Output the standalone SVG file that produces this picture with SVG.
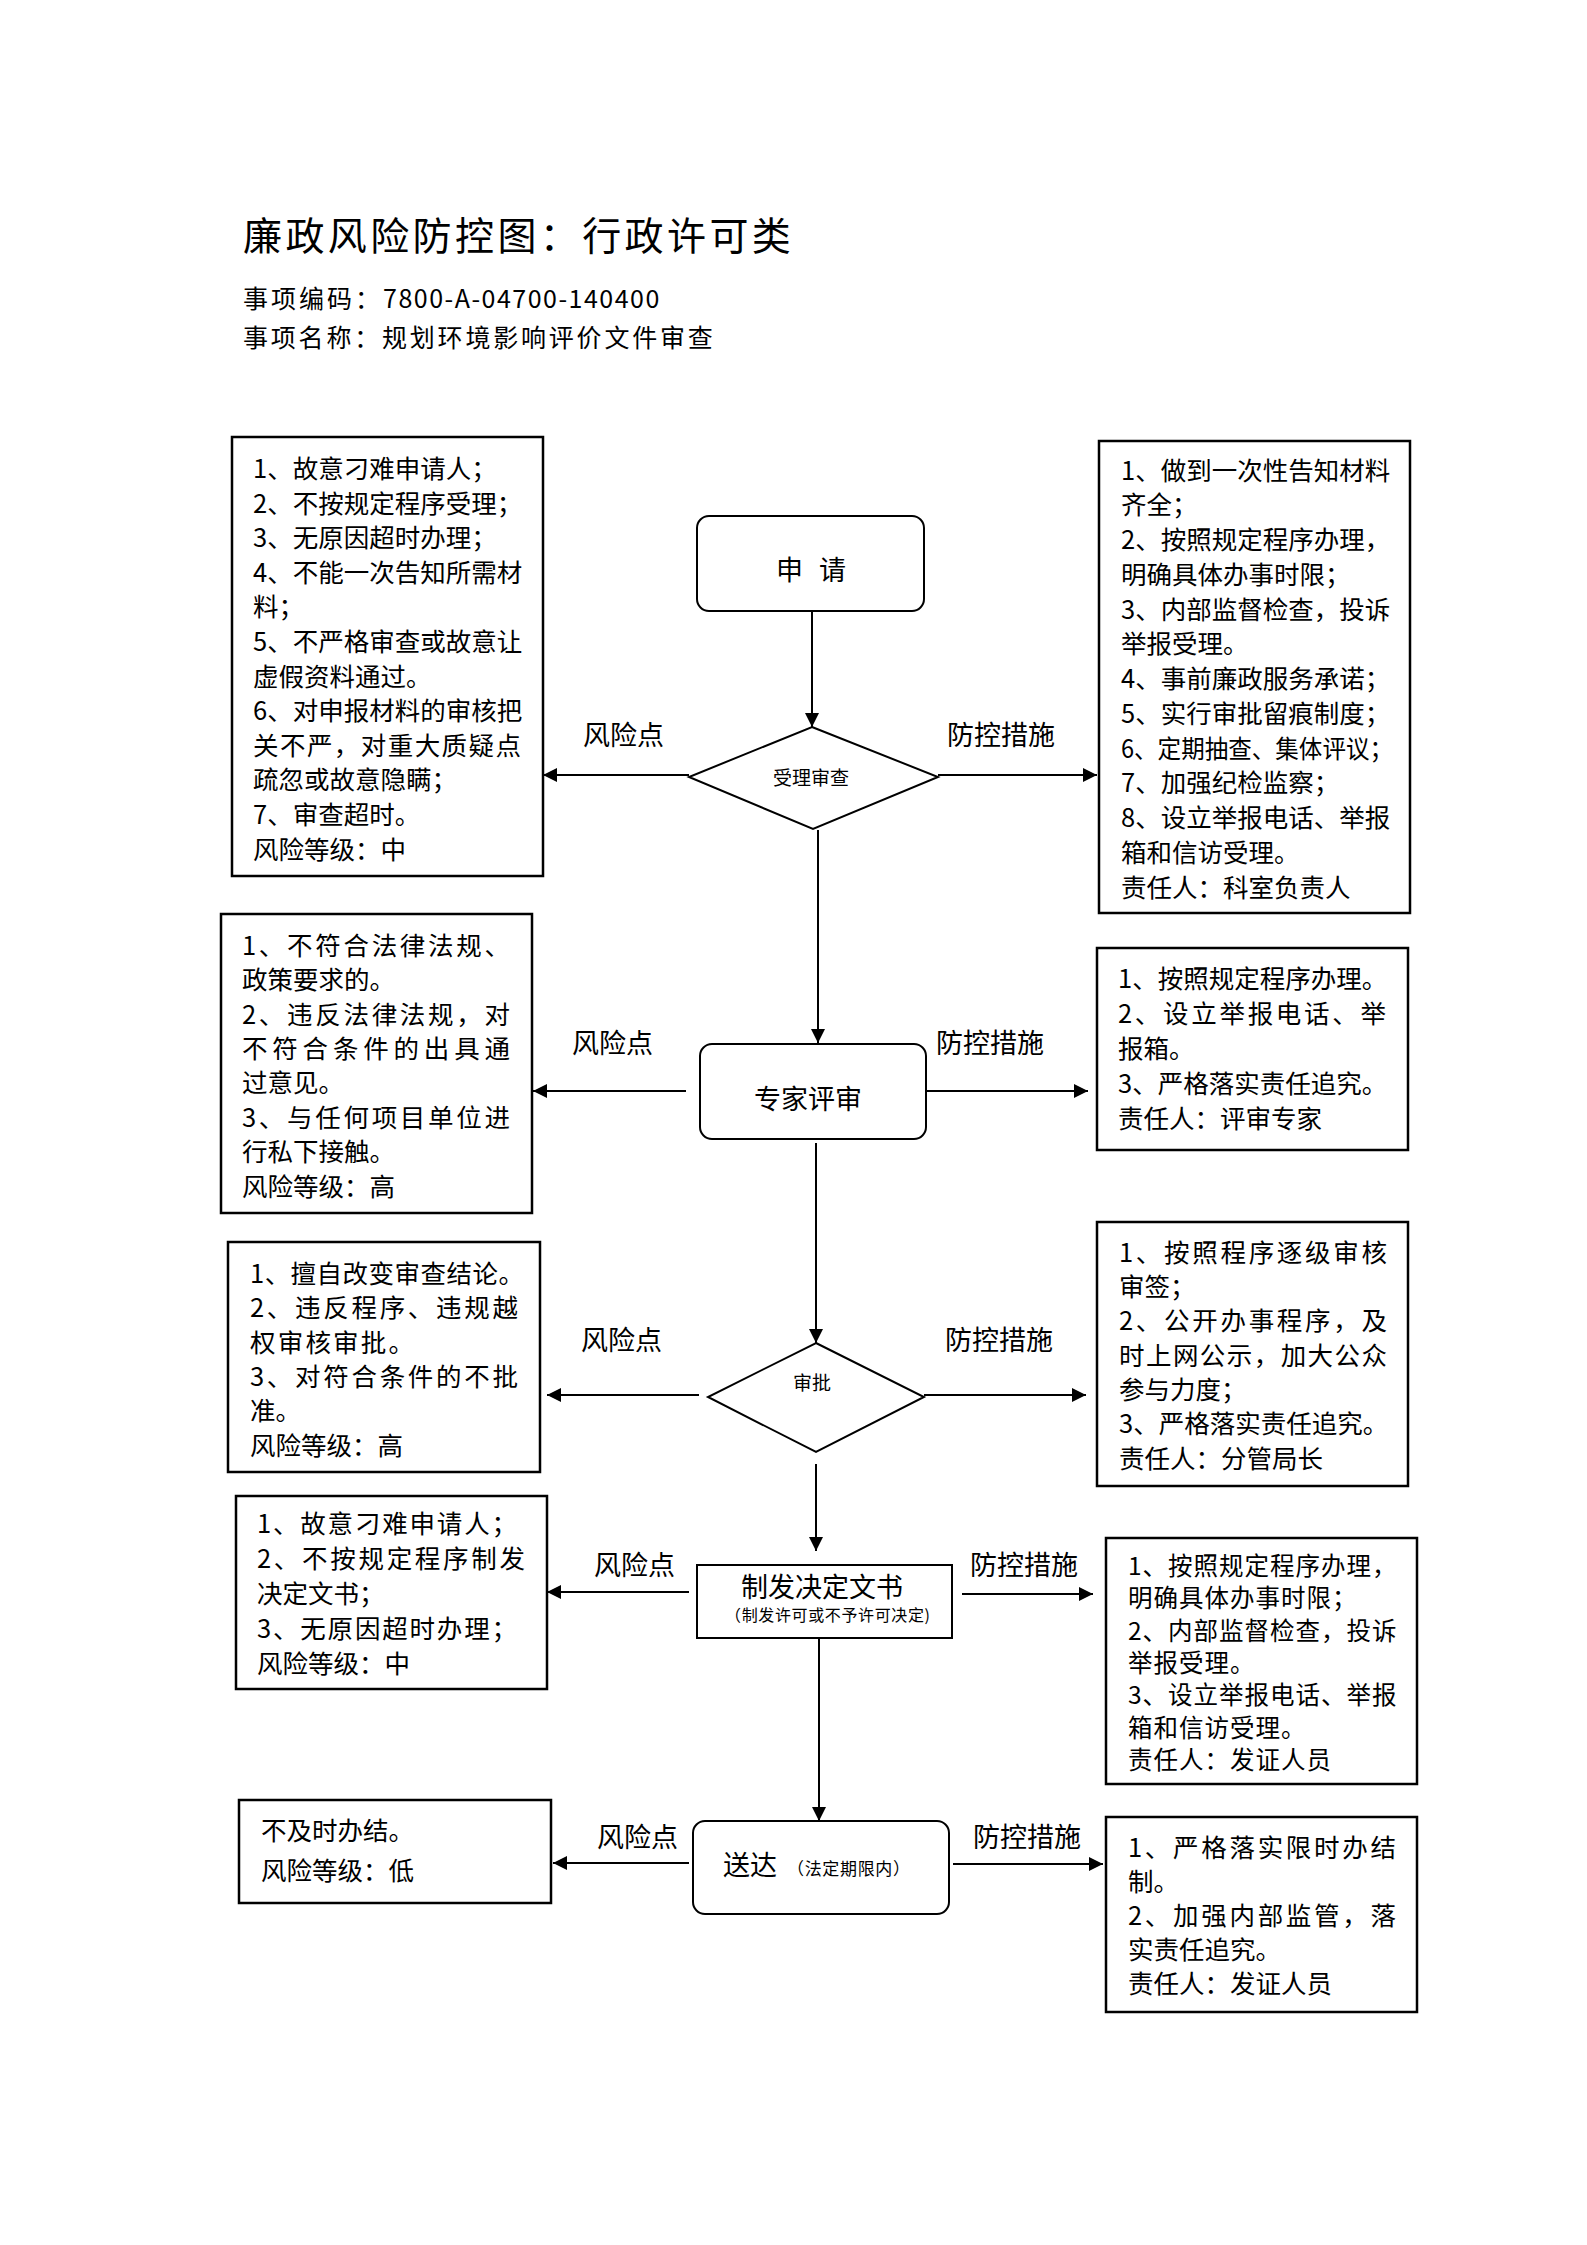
<svg xmlns="http://www.w3.org/2000/svg" width="1587" height="2245" viewBox="0 0 1587 2245">
<style>
text{font-family:"Noto Sans CJK SC","Noto Sans",sans-serif;fill:#000}
.title{font-size:39px;letter-spacing:3.4px}
.hdr{font-size:25px}
.bx{font-size:25.5px}
.bxs{font-size:24.5px;letter-spacing:1px}
.lbl{font-size:27px}
.nd{font-size:27px}
.sm{font-size:19px}
.box{fill:#fff;stroke:#000;stroke-width:2.5}
.node{fill:#fff;stroke:#000;stroke-width:2}
.cn{stroke:#000;stroke-width:2;fill:none;marker-end:url(#ah)}
</style>
<defs>
<marker id="ah" viewBox="0 0 14 14" markerWidth="14" markerHeight="14" refX="14" refY="7" orient="auto" markerUnits="userSpaceOnUse">
<path d="M0,0 L14,7 L0,14 z" fill="#000"/>
</marker>
</defs>
<rect x="0" y="0" width="1587" height="2245" fill="#fff"/>

<g id="header">
<text class="title" x="243" y="250">廉政风险防控图：行政许可类</text>
<text class="hdr" x="243" y="307.5"><tspan letter-spacing="3">事项编码：</tspan><tspan letter-spacing="1.5">7800-A-04700-140400</tspan></text>
<text class="hdr" x="243" y="346.5" letter-spacing="2.8">事项名称：规划环境影响评价文件审查</text>
</g>

<g id="connectors">
<line class="cn" x1="812" y1="611" x2="812" y2="727"/>
<line class="cn" x1="689" y1="775" x2="543" y2="775"/>
<line class="cn" x1="938" y1="775" x2="1097" y2="775"/>
<line class="cn" x1="818" y1="830" x2="818" y2="1043"/>
<line class="cn" x1="686" y1="1091" x2="533" y2="1091"/>
<line class="cn" x1="927" y1="1091" x2="1088" y2="1091"/>
<line class="cn" x1="816" y1="1143" x2="816" y2="1343"/>
<line class="cn" x1="699" y1="1395" x2="547" y2="1395"/>
<line class="cn" x1="924" y1="1395" x2="1086" y2="1395"/>
<line class="cn" x1="816" y1="1464" x2="816" y2="1551"/>
<line class="cn" x1="689" y1="1592" x2="547" y2="1592"/>
<line class="cn" x1="962" y1="1594" x2="1093" y2="1594"/>
<line class="cn" x1="819" y1="1638" x2="819" y2="1821"/>
<line class="cn" x1="689" y1="1863" x2="553" y2="1863"/>
<line class="cn" x1="953" y1="1864" x2="1103" y2="1864"/>
</g>

<g id="labels">
<text class="lbl" x="583" y="745">风险点</text>
<text class="lbl" x="947" y="745">防控措施</text>
<text class="lbl" x="572" y="1053">风险点</text>
<text class="lbl" x="936" y="1053">防控措施</text>
<text class="lbl" x="581" y="1350">风险点</text>
<text class="lbl" x="945" y="1350">防控措施</text>
<text class="lbl" x="594" y="1575">风险点</text>
<text class="lbl" x="970" y="1575">防控措施</text>
<text class="lbl" x="597" y="1847">风险点</text>
<text class="lbl" x="973" y="1847">防控措施</text>
</g>

<g id="n-apply">
<rect class="node" x="697" y="516" width="227" height="95" rx="12"/>
<text class="nd" x="811" y="580" text-anchor="middle" word-spacing="10">申 请</text>
</g>

<g id="n-accept">
<polygon class="node" points="812,727 938,777 813,829 689,777"/>
<text class="sm" x="811" y="785" text-anchor="middle">受理审查</text>
</g>

<g id="n-expert">
<rect class="node" x="700" y="1044" width="226" height="95" rx="12"/>
<text class="nd" x="808" y="1109" text-anchor="middle">专家评审</text>
</g>

<g id="n-approve">
<polygon class="node" points="816,1343 924,1397 816,1452 708,1397"/>
<text class="sm" x="812" y="1390" text-anchor="middle">审批</text>
</g>

<g id="n-issue">
<rect class="node" x="697" y="1565" width="255" height="73"/>
<text class="nd" x="822" y="1597" text-anchor="middle">制发决定文书</text>
<text x="725" y="1621" font-size="16" textLength="205" lengthAdjust="spacing">（制发许可或不予许可决定)</text>
</g>

<g id="n-deliver">
<rect class="node" x="693" y="1821" width="256" height="93" rx="12"/>
<text x="723" y="1875"><tspan font-size="27">送达</tspan><tspan x="787" font-size="17" textLength="123" lengthAdjust="spacing">（法定期限内）</tspan></text>
</g>

<g id="r1">
<rect class="box" x="232" y="437" width="311" height="439"/>
<text class="bx" x="253" y="478">
<tspan x="253" dy="0">1、故意刁难申请人；</tspan>
<tspan x="253" dy="34.6">2、不按规定程序受理；</tspan>
<tspan x="253" dy="34.6">3、无原因超时办理；</tspan>
<tspan x="253" dy="34.6">4、不能一次告知所需材</tspan>
<tspan x="253" dy="34.6">料；</tspan>
<tspan x="253" dy="34.6">5、不严格审查或故意让</tspan>
<tspan x="253" dy="34.6">虚假资料通过。</tspan>
<tspan x="253" dy="34.6">6、对申报材料的审核把</tspan>
<tspan x="253" dy="34.6" textLength="268" lengthAdjust="spacing">关不严，对重大质疑点</tspan>
<tspan x="253" dy="34.6">疏忽或故意隐瞒；</tspan>
<tspan x="253" dy="34.6">7、审查超时。</tspan>
<tspan x="253" dy="34.6">风险等级：中</tspan>
</text>
</g>

<g id="m1">
<rect class="box" x="1099" y="441" width="311" height="472"/>
<text class="bx" x="1121" y="479.7">
<tspan x="1121" dy="0">1、做到一次性告知材料</tspan>
<tspan x="1121" dy="34.75">齐全；</tspan>
<tspan x="1121" dy="34.75">2、按照规定程序办理，</tspan>
<tspan x="1121" dy="34.75">明确具体办事时限；</tspan>
<tspan x="1121" dy="34.75">3、内部监督检查，投诉</tspan>
<tspan x="1121" dy="34.75">举报受理。</tspan>
<tspan x="1121" dy="34.75">4、事前廉政服务承诺；</tspan>
<tspan x="1121" dy="34.75">5、实行审批留痕制度；</tspan>
<tspan x="1121" dy="34.75" textLength="272" lengthAdjust="spacingAndGlyphs">6、定期抽查、集体评议；</tspan>
<tspan x="1121" dy="34.75">7、加强纪检监察；</tspan>
<tspan x="1121" dy="34.75">8、设立举报电话、举报</tspan>
<tspan x="1121" dy="34.75">箱和信访受理。</tspan>
<tspan x="1121" dy="34.75">责任人：科室负责人</tspan>
</text>
</g>

<g id="r2">
<rect class="box" x="221" y="914" width="311" height="299"/>
<text class="bx" x="242" y="954.7">
<tspan x="242" dy="0" textLength="268" lengthAdjust="spacing">1、不符合法律法规、</tspan>
<tspan x="242" dy="34.4">政策要求的。</tspan>
<tspan x="242" dy="34.4" textLength="268" lengthAdjust="spacing">2、违反法律法规，对</tspan>
<tspan x="242" dy="34.4" textLength="268" lengthAdjust="spacing">不符合条件的出具通</tspan>
<tspan x="242" dy="34.4">过意见。</tspan>
<tspan x="242" dy="34.4" textLength="268" lengthAdjust="spacing">3、与任何项目单位进</tspan>
<tspan x="242" dy="34.4">行私下接触。</tspan>
<tspan x="242" dy="34.4">风险等级：高</tspan>
</text>
</g>

<g id="m2">
<rect class="box" x="1097" y="948" width="311" height="202"/>
<text class="bx" x="1118" y="987.7">
<tspan x="1118" dy="0">1、按照规定程序办理。</tspan>
<tspan x="1118" dy="35" textLength="268" lengthAdjust="spacing">2、设立举报电话、举</tspan>
<tspan x="1118" dy="35">报箱。</tspan>
<tspan x="1118" dy="35">3、严格落实责任追究。</tspan>
<tspan x="1118" dy="35">责任人：评审专家</tspan>
</text>
</g>

<g id="r3">
<rect class="box" x="228" y="1242" width="312" height="230"/>
<text class="bx" x="250" y="1282.7">
<tspan x="250" dy="0" textLength="274" lengthAdjust="spacing">1、擅自改变审查结论。</tspan>
<tspan x="250" dy="34.4" textLength="268" lengthAdjust="spacing">2、违反程序、违规越</tspan>
<tspan x="250" dy="34.4" textLength="164" lengthAdjust="spacing">权审核审批。</tspan>
<tspan x="250" dy="34.4" textLength="268" lengthAdjust="spacing">3、对符合条件的不批</tspan>
<tspan x="250" dy="34.4">准。</tspan>
<tspan x="250" dy="34.4">风险等级：高</tspan>
</text>
</g>

<g id="m3">
<rect class="box" x="1097" y="1222" width="311" height="264"/>
<text class="bx" x="1119" y="1261.7">
<tspan x="1119" dy="0" textLength="268" lengthAdjust="spacing">1、按照程序逐级审核</tspan>
<tspan x="1119" dy="34.3">审签；</tspan>
<tspan x="1119" dy="34.3" textLength="268" lengthAdjust="spacing">2、公开办事程序，及</tspan>
<tspan x="1119" dy="34.3" textLength="268" lengthAdjust="spacing">时上网公示，加大公众</tspan>
<tspan x="1119" dy="34.3">参与力度；</tspan>
<tspan x="1119" dy="34.3">3、严格落实责任追究。</tspan>
<tspan x="1119" dy="34.3">责任人：分管局长</tspan>
</text>
</g>

<g id="r4">
<rect class="box" x="236" y="1496" width="311" height="193"/>
<text class="bx" x="257" y="1532.7">
<tspan x="257" dy="0" textLength="260" lengthAdjust="spacing">1、故意刁难申请人；</tspan>
<tspan x="257" dy="35" textLength="268" lengthAdjust="spacing">2、不按规定程序制发</tspan>
<tspan x="257" dy="35">决定文书；</tspan>
<tspan x="257" dy="35" textLength="260" lengthAdjust="spacing">3、无原因超时办理；</tspan>
<tspan x="257" dy="35">风险等级：中</tspan>
</text>
</g>

<g id="m4">
<rect class="box" x="1106" y="1538" width="311" height="246"/>
<text class="bxs" x="1128" y="1575">
<tspan x="1128" dy="0">1、按照规定程序办理，</tspan>
<tspan x="1128" dy="32.3">明确具体办事时限；</tspan>
<tspan x="1128" dy="32.3">2、内部监督检查，投诉</tspan>
<tspan x="1128" dy="32.3">举报受理。</tspan>
<tspan x="1128" dy="32.3">3、设立举报电话、举报</tspan>
<tspan x="1128" dy="32.3">箱和信访受理。</tspan>
<tspan x="1128" dy="32.3">责任人：发证人员</tspan>
</text>
</g>

<g id="r5">
<rect class="box" x="239" y="1800" width="312" height="103"/>
<text class="bx" x="261" y="1839.7">
<tspan x="261" dy="0">不及时办结。</tspan>
<tspan x="261" dy="40">风险等级：低</tspan>
</text>
</g>

<g id="m5">
<rect class="box" x="1106" y="1817" width="311" height="195"/>
<text class="bx" x="1128" y="1856.7">
<tspan x="1128" dy="0" textLength="268" lengthAdjust="spacing">1、严格落实限时办结</tspan>
<tspan x="1128" dy="34">制。</tspan>
<tspan x="1128" dy="34" textLength="268" lengthAdjust="spacing">2、加强内部监管，落</tspan>
<tspan x="1128" dy="34">实责任追究。</tspan>
<tspan x="1128" dy="34">责任人：发证人员</tspan>
</text>
</g>
</svg>
